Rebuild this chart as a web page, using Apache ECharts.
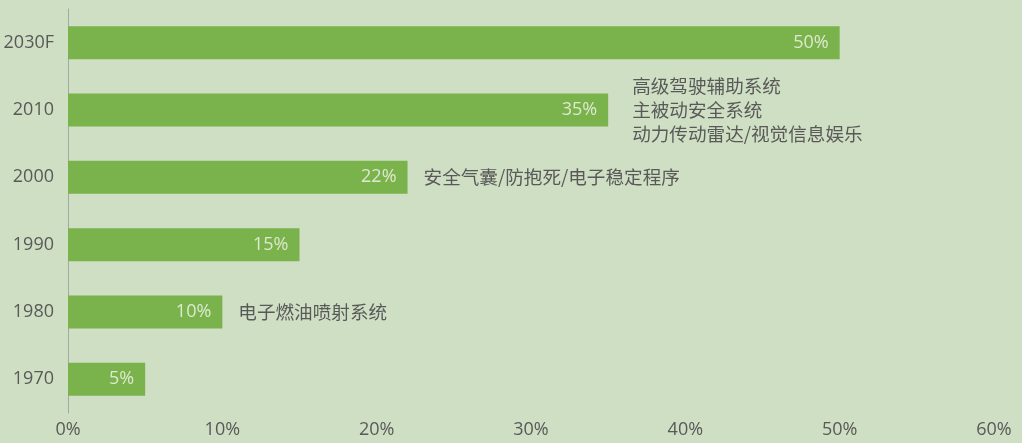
<!DOCTYPE html>
<html>
<head>
<meta charset="utf-8">
<script src="https://cdn.jsdelivr.net/npm/echarts@6/dist/echarts.min.js"></script>
<style>
html,body{margin:0;padding:0;background:#cfdfc3;}
#c{width:1022px;height:443px;}
</style>
</head>
<body>
<div id="c"></div>
<script>
var categories = ['1970', '1980', '1990', '2000', '2010', '2030F'];
var values = [5, 10, 15, 22, 35, 50];
var annotations = ['', '电子燃油喷射系统', '', '安全气囊/防抱死/电子稳定程序', '高级驾驶辅助系统\n主被动安全系统\n动力传动雷达/视觉信息娱乐', ''];
var xTicks = [0, 10, 20, 30, 40, 50, 60];

var annoData = values.map(function (v, i) {
  var item = {value: v};
  if (annotations[i].indexOf('\n') >= 0) { item.label = {distance: 24}; }
  return item;
});

var chart = echarts.init(document.getElementById('c'));
chart.setOption({
  backgroundColor: '#cfdfc3',
  animation: false,
  grid: {left: 68, right: 28, top: 9, bottom: 30, containLabel: false},
  xAxis: {
    type: 'value', min: xTicks[0], max: xTicks[xTicks.length - 1], interval: 10,
    axisLine: {show: false}, axisTick: {show: false}, splitLine: {show: false},
    axisLabel: {formatter: '{value}%', color: '#595959', fontFamily: 'Open Sans', fontSize: 18, margin: 8}
  },
  yAxis: {
    type: 'category', data: categories,
    axisLine: {show: true, lineStyle: {color: '#a6a6a6', width: 1}},
    axisTick: {show: false},
    axisLabel: {color: '#595959', fontFamily: 'Open Sans', fontSize: 18, margin: 14}
  },
  series: [
    {
      type: 'bar', data: values, barWidth: 33,
      itemStyle: {color: '#7ab24c'},
      label: {show: true, position: 'insideRight', distance: 11, formatter: '{c}%',
        color: '#dde9cf', fontFamily: 'Open Sans', fontSize: 18}
    },
    {
      type: 'bar', data: annoData, barWidth: 33, barGap: '-100%',
      itemStyle: {color: 'rgba(0,0,0,0)'}, silent: true,
      label: {show: true, position: 'right', distance: 16,
        formatter: function (p) { return annotations[p.dataIndex]; },
        color: '#595959', fontFamily: 'Noto Sans CJK SC', fontSize: 18.6, lineHeight: 24}
    }
  ]
});
</script>
</body>
</html>
